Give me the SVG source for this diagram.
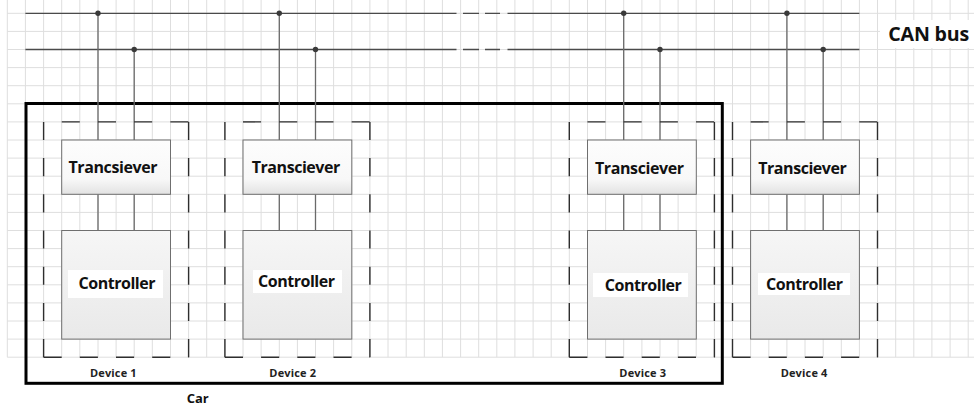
<svg xmlns="http://www.w3.org/2000/svg" width="974" height="406" viewBox="0 0 974 406">
  <style>
    .grid{stroke:#dedede;stroke-width:1;fill:none}
    .bus{stroke:#4a4a4a;stroke-width:1.3;fill:none}
    .drop{stroke:#6a6a6a;stroke-width:1.3;fill:none}
    .dot{fill:#3a3a3a}
    .dev{stroke:#2e2e2e;stroke-width:1.4;fill:none;stroke-dasharray:18.1 18.1}
    .devtop{stroke-dashoffset:18.1}
    .tbox{fill:url(#tgrad);stroke:#6f6f6f;stroke-width:1}
    .cbox{fill:url(#cgrad);stroke:#6f6f6f;stroke-width:1}
    .lbl{font-family:"Open Sans","Noto Sans","Liberation Sans",sans-serif;font-weight:700;fill:#111;text-anchor:middle}
    .big{font-size:16px}
    .small{font-size:11px;fill:#222}
    .car{fill:none;stroke:#000;stroke-width:3}
  </style>
  <defs>
    <linearGradient id="tgrad" x1="0" y1="0" x2="0" y2="1">
      <stop offset="0" stop-color="#fdfdfd"/>
      <stop offset="0.72" stop-color="#f8f8f8"/>
      <stop offset="1" stop-color="#e2e2e2"/>
    </linearGradient>
    <linearGradient id="cgrad" x1="0" y1="0" x2="0" y2="1">
      <stop offset="0" stop-color="#f6f6f6"/>
      <stop offset="1" stop-color="#e9e9e9"/>
    </linearGradient>
  </defs>
  <rect width="974" height="406" fill="#fff"/>
  <g id="grid" class="grid">
    <path d="M7.3 0V357.2M25.4 0V357.2M43.6 0V357.2M61.7 0V357.2M79.8 0V357.2M98 0V357.2M116.1 0V357.2M134.2 0V357.2M152.3 0V357.2M170.5 0V357.2M188.6 0V357.2M206.7 0V357.2M224.9 0V357.2M243 0V357.2M261.1 0V357.2M279.3 0V357.2M297.4 0V357.2M315.5 0V357.2M333.6 0V357.2M351.8 0V357.2M369.9 0V357.2M388 0V357.2M406.2 0V357.2M424.3 0V357.2M442.4 0V357.2M460.6 0V357.2M478.7 0V357.2M496.8 0V357.2M514.9 0V357.2M533.1 0V357.2M551.2 0V357.2M569.3 0V357.2M587.5 0V357.2M605.6 0V357.2M623.7 0V357.2M641.9 0V357.2M660 0V357.2M678.1 0V357.2M696.2 0V357.2M714.4 0V357.2M732.5 0V357.2M750.6 0V357.2M768.8 0V357.2M786.9 0V357.2M805 0V357.2M823.2 0V357.2M841.3 0V357.2M859.4 0V357.2M877.5 0V357.2M895.7 0V357.2M913.8 0V357.2M931.9 0V357.2M950.1 0V357.2M968.2 0V357.2"/>
    <path d="M7.3 13.3H974M7.3 31.4H974M7.3 49.5H974M7.3 67.6H974M7.3 85.7H974M7.3 103.8H974M7.3 121.9H974M7.3 140H974M7.3 158.1H974M7.3 176.2H974M7.3 194.3H974M7.3 212.4H974M7.3 230.5H974M7.3 248.6H974M7.3 266.7H974M7.3 284.8H974M7.3 302.9H974M7.3 321H974M7.3 339.1H974M7.3 357.2H974"/>
  </g>
  <rect x="880" y="20" width="94" height="28" fill="#fff"/>
  <text x="888.3" y="40.7" class="lbl" style="font-size:19.6px;text-anchor:start" textLength="81">CAN bus</text>

  <g id="car">
    <rect x="26" y="103.5" width="696.3" height="279.8" class="car"/>
    <text x="197.7" y="402.7" class="lbl" style="font-size:13px" textLength="22">Car</text>
  </g>

  <g id="connectors">
    <path class="bus" d="M25.4 13.3H456.5M463 13.3H479M485 13.3H500M507.5 13.3H859.4M25.4 49.5H456.5M463 49.5H479M485 49.5H500M507.5 49.5H859.4"/>
    <path class="drop" d="M98 13.3V140M134.2 49.5V140M279.3 13.3V140M315.5 49.5V140M623.7 13.3V140M660 49.5V140M786.9 13.3V140M823.2 49.5V140"/>
    <path class="drop" d="M98 194.3V230.5M134.2 194.3V230.5M279.3 194.3V230.5M315.5 194.3V230.5M623.7 194.3V230.5M660 194.3V230.5M786.9 194.3V230.5M823.2 194.3V230.5"/>
    <circle class="dot" cx="98" cy="13.3" r="2.7"/>
    <circle class="dot" cx="279.3" cy="13.3" r="2.7"/>
    <circle class="dot" cx="623.7" cy="13.3" r="2.7"/>
    <circle class="dot" cx="786.9" cy="13.3" r="2.7"/>
    <circle class="dot" cx="134.2" cy="49.5" r="2.7"/>
    <circle class="dot" cx="315.5" cy="49.5" r="2.7"/>
    <circle class="dot" cx="660" cy="49.5" r="2.7"/>
    <circle class="dot" cx="823.2" cy="49.5" r="2.7"/>
  </g>

  <g id="device1">
    <line class="dev devtop" x1="43.6" y1="121.9" x2="188.6" y2="121.9"/>
    <line class="dev" x1="43.6" y1="357.2" x2="188.6" y2="357.2"/>
    <line class="dev" x1="43.6" y1="121.9" x2="43.6" y2="357.2"/>
    <line class="dev" x1="188.6" y1="121.9" x2="188.6" y2="357.2"/>
    <rect class="tbox" x="61.7" y="140" width="108.8" height="54.3"/>
    <text class="lbl big" x="113" y="173" textLength="89">Trancsiever</text>
    <rect class="cbox" x="61.7" y="230.5" width="108.8" height="108.6"/>
    <rect x="68" y="270" width="95" height="28" fill="#fff"/>
    <text class="lbl big" x="117" y="289.3" textLength="77">Controller</text>
    <text class="lbl small" x="113.3" y="377" textLength="46.7">Device 1</text>
  </g>

  <g id="device2">
    <line class="dev devtop" x1="224.9" y1="121.9" x2="369.9" y2="121.9"/>
    <line class="dev" x1="224.9" y1="357.2" x2="369.9" y2="357.2"/>
    <line class="dev" x1="224.9" y1="121.9" x2="224.9" y2="357.2"/>
    <line class="dev" x1="369.9" y1="121.9" x2="369.9" y2="357.2"/>
    <rect class="tbox" x="243" y="140" width="108.8" height="54.3"/>
    <text class="lbl big" x="296" y="173" textLength="88.5">Transciever</text>
    <rect class="cbox" x="243" y="230.5" width="108.8" height="108.6"/>
    <rect x="253" y="270" width="89" height="23" fill="#fff"/>
    <text class="lbl big" x="296.5" y="287.3" textLength="77">Controller</text>
    <text class="lbl small" x="292.7" y="377" textLength="46.7">Device 2</text>
  </g>

  <g id="device3">
    <line class="dev devtop" x1="569.3" y1="121.9" x2="714.4" y2="121.9"/>
    <line class="dev" x1="569.3" y1="357.2" x2="714.4" y2="357.2"/>
    <line class="dev" x1="569.3" y1="121.9" x2="569.3" y2="357.2"/>
    <line class="dev" x1="714.4" y1="121.9" x2="714.4" y2="357.2"/>
    <rect class="tbox" x="587.5" y="140" width="108.8" height="54.3"/>
    <text class="lbl big" x="639.5" y="174" textLength="89">Transciever</text>
    <rect class="cbox" x="587.5" y="230.5" width="108.8" height="108.6"/>
    <rect x="593" y="273" width="95" height="24" fill="#fff"/>
    <text class="lbl big" x="643.3" y="291" textLength="77">Controller</text>
    <text class="lbl small" x="642.7" y="377" textLength="46.7">Device 3</text>
  </g>

  <g id="device4">
    <line class="dev devtop" x1="732.5" y1="121.9" x2="877.5" y2="121.9"/>
    <line class="dev" x1="732.5" y1="357.2" x2="877.5" y2="357.2"/>
    <line class="dev" x1="732.5" y1="121.9" x2="732.5" y2="357.2"/>
    <line class="dev" x1="877.5" y1="121.9" x2="877.5" y2="357.2"/>
    <rect class="tbox" x="750.6" y="140" width="108.8" height="54.3"/>
    <text class="lbl big" x="802.5" y="174" textLength="88.5">Transciever</text>
    <rect class="cbox" x="750.6" y="230.5" width="108.8" height="108.6"/>
    <rect x="758" y="273" width="92" height="22" fill="#fff"/>
    <text class="lbl big" x="804.5" y="290" textLength="77">Controller</text>
    <text class="lbl small" x="804" y="377" textLength="46.7">Device 4</text>
  </g>
</svg>
